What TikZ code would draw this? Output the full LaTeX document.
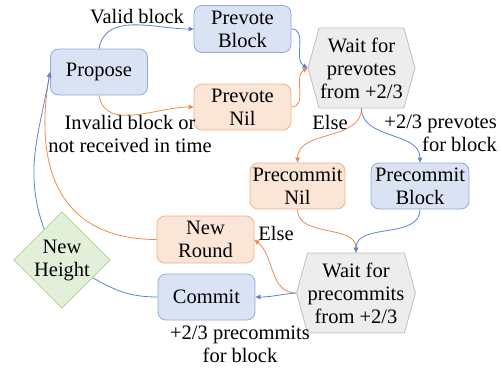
\documentclass[tikz,border=0pt]{standalone}
\usepackage{fontspec}
\setmainfont{Liberation Serif}
\usetikzlibrary{arrows.meta,shapes.geometric,shapes.symbols}
\definecolor{bfill}{HTML}{DAE3F3}
\definecolor{bdraw}{HTML}{8FAADC}
\definecolor{ofill}{HTML}{FBE5D6}
\definecolor{odraw}{HTML}{F4B183}
\definecolor{gfill}{HTML}{EDEDED}
\definecolor{gdraw}{HTML}{BFBFBF}
\definecolor{nfill}{HTML}{E2F0D9}
\definecolor{ndraw}{HTML}{A9D18E}
\definecolor{barrow}{HTML}{5A84CF}
\definecolor{oarrow}{HTML}{F08A4B}
\begin{document}
\begin{tikzpicture}[x=1pt,y=1pt,
  txt/.style={font=\fontsize{20.5}{23}\selectfont, align=center, inner sep=0pt},
  box/.style={txt, rounded corners=8pt, line width=0.8pt, minimum width=97pt, minimum height=46pt},
  bluebox/.style={box, fill=bfill, draw=bdraw},
  orangebox/.style={box, fill=ofill, draw=odraw},
  hexa/.style={txt, signal, signal to=west and east, signal pointer angle=149, fill=gfill, draw=gdraw, line width=0.8pt, minimum width=106pt, minimum height=80pt},
  dia/.style={txt, diamond, aspect=1, fill=nfill, draw=ndraw, line width=0.8pt, minimum width=96pt, minimum height=96pt},
  barr/.style={draw=barrow, line width=0.8pt, -{Triangle[length=5pt,width=4.5pt]}},
  oarr/.style={draw=oarrow, line width=0.8pt, -{Triangle[length=5pt,width=4.5pt]}},
  bline/.style={draw=barrow, line width=0.8pt},
]
\useasboundingbox (0,0) rectangle (502,368);
\node[bluebox] (propose) at (99,296) {Propose};
\node[bluebox, minimum height=47pt] (pvblock) at (242.5,339) {Prevote\\Block};
\node[orangebox] (pvnil) at (242.5,261) {Prevote\\Nil};
\node[hexa, minimum width=107pt] (waitpv) at (361.5,300) {Wait for\\prevotes\\from +2/3};
\node[orangebox, minimum width=95pt] (pcnil) at (297.5,182) {Precommit\\Nil};
\node[bluebox, minimum width=98pt] (pcblock) at (420,182) {Precommit\\Block};
\node[hexa] (waitpc) at (356,75) {Wait for\\precommits\\from +2/3};
\node[orangebox, minimum height=47pt] (newround) at (205.5,128.5) {New\\Round};
\node[bluebox] (commit) at (206.5,71) {Commit};
\node[dia] (newheight) at (62,108) {New\\Height};

\node[txt] (lvalid) at (137,351) {Valid block};
\node[txt] (linvalid) at (130,234.5) {Invalid block or\\not received in time};
\node[txt] (lelse1) at (330,246) {Else};
\node[txt, anchor=east, align=right] (lpv) at (497,234.5) {+2/3 prevotes\\for block};
\node[txt] (lelse2) at (276,135) {Else};
\node[txt] (lpc) at (240,24) {+2/3 precommits\\for block};

\draw[barr] (propose.north) to[out=80,in=180] (pvblock.west);
\draw[oarr] (propose.south) to[out=-80,in=180] (pvnil.west);
\draw[barr] (pvblock.east) to[out=0,in=150] (waitpv.west);
\draw[oarr] (pvnil.east) to[out=0,in=210] (waitpv.west);
\draw[oarr] (waitpv.south) to[out=-90,in=90] (pcnil.north);
\draw[barr] (waitpv.south) to[out=-90,in=90] (pcblock.north);
\draw[oarr] (pcnil.south) to[out=-90,in=90] (waitpc.north);
\draw[barr] (pcblock.south) to[out=-90,in=90] (waitpc.north);
\draw[barr] (waitpc.west) to[out=185,in=0] (commit.east);
\draw[oarr] (waitpc.west) to[out=180,in=-40] (newround.east);
\draw[oarr] (newround.west) to[out=180,in=-100,looseness=1.25] (propose.west);
\draw[barr] (newheight.120) to[out=110,in=-100] (propose.west);
\draw[bline] (commit.west) to[out=180,in=-30] (newheight.-30);
\end{tikzpicture}
\end{document}
